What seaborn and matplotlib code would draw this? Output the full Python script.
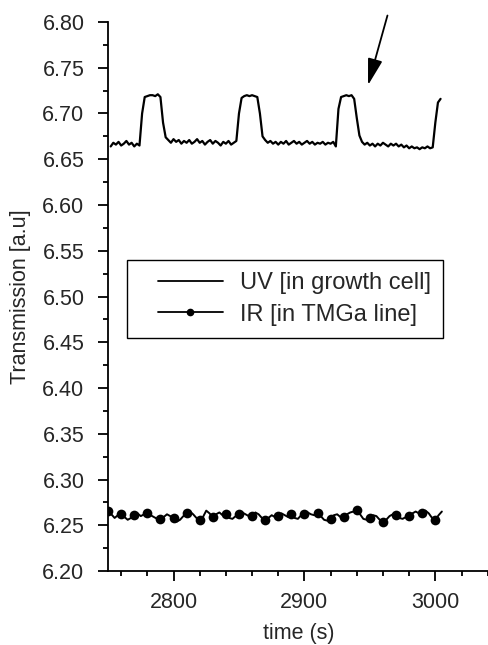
import numpy as np
import seaborn as sns
import matplotlib.pyplot as plt
from matplotlib.lines import Line2D
from matplotlib.legend_handler import HandlerLine2D

# UV signal (growth cell), sampled every 2 s
uv_time = np.arange(2752, 3005, 2)
uv_values = [
    6.664, 6.668, 6.666, 6.669, 6.665, 6.667, 6.670, 6.666, 6.668, 6.664,
    6.667, 6.665, 6.700, 6.718, 6.719, 6.720, 6.720, 6.719, 6.721, 6.718,
    6.690, 6.674, 6.671, 6.668, 6.672, 6.669, 6.671, 6.667, 6.670, 6.668,
    6.671, 6.667, 6.669, 6.672, 6.668, 6.670, 6.666, 6.669, 6.671, 6.667,
    6.670, 6.668, 6.665, 6.669, 6.667, 6.670, 6.666, 6.668, 6.670, 6.700,
    6.717, 6.719, 6.720, 6.719, 6.720, 6.719, 6.718, 6.700, 6.675, 6.671,
    6.668, 6.670, 6.667, 6.669, 6.666, 6.669, 6.667, 6.670, 6.666, 6.668,
    6.670, 6.667, 6.669, 6.666, 6.668, 6.670, 6.667, 6.669, 6.666, 6.668,
    6.667, 6.669, 6.666, 6.668, 6.667, 6.669, 6.664, 6.705, 6.718, 6.719,
    6.720, 6.719, 6.720, 6.716, 6.695, 6.676, 6.669, 6.666, 6.668, 6.665,
    6.667, 6.664, 6.667, 6.665, 6.668, 6.666, 6.664, 6.667, 6.665, 6.667,
    6.664, 6.666, 6.663, 6.665, 6.662, 6.664, 6.662, 6.663, 6.661, 6.663,
    6.662, 6.664, 6.662, 6.663, 6.690, 6.712, 6.716,
]

# IR signal (TMGa line), sampled every 2.5 s, marker every 10 s
ir_time = np.arange(2750, 3005.1, 2.5)
ir_values = [
    6.2655, 6.262, 6.258, 6.261,
    6.2626, 6.259, 6.256, 6.258,
    6.2608, 6.263, 6.260, 6.262,
    6.2630, 6.261, 6.259, 6.257,
    6.2564, 6.259, 6.262, 6.260,
    6.2575, 6.254, 6.256, 6.260,
    6.2630, 6.265, 6.262, 6.258,
    6.2553, 6.259, 6.266, 6.263,
    6.2589, 6.262, 6.264, 6.261,
    6.2619, 6.258, 6.257, 6.260,
    6.2619, 6.264, 6.262, 6.260,
    6.2600, 6.264, 6.262, 6.258,
    6.2553, 6.258, 6.261, 6.259,
    6.2600, 6.263, 6.261, 6.259,
    6.2619, 6.258, 6.257, 6.261,
    6.2619, 6.264, 6.262, 6.261,
    6.2630, 6.260, 6.256, 6.255,
    6.2571, 6.261, 6.262, 6.259,
    6.2589, 6.262, 6.264, 6.265,
    6.2663, 6.262, 6.257, 6.256,
    6.2581, 6.261, 6.260, 6.256,
    6.2538, 6.256, 6.260, 6.262,
    6.2612, 6.258, 6.257, 6.259,
    6.2600, 6.263, 6.265, 6.263,
    6.2637, 6.266, 6.263, 6.258,
    6.2557, 6.261, 6.265,
]

labels = ['UV [in growth cell]', 'IR [in TMGa line]']

sns.set_style('ticks')
plt.rcParams['font.family'] = ['Liberation Sans', 'DejaVu Sans']
fs = 15.5

fig = plt.figure(figsize=(4.89, 6.45), dpi=100)
ax = fig.add_axes([0.221, 0.1147, 0.779, 0.8512])

sns.lineplot(x=uv_time, y=uv_values, ax=ax, color='black', linewidth=1.6,
             estimator=None, sort=False)
sns.lineplot(x=ir_time, y=ir_values, ax=ax, color='black', linewidth=1.4,
             marker='o', markersize=7, markevery=4, markeredgewidth=0,
             estimator=None, sort=False)

ax.set_xlim(2750, 3041)
ax.set_ylim(6.20, 6.80)
ax.set_xticks([2800, 2900, 3000])
ax.set_xticks(np.arange(2760, 3041, 20), minor=True)
ax.set_yticks(np.arange(6.20, 6.801, 0.05))
ax.set_yticks(np.arange(6.225, 6.80, 0.05), minor=True)
ax.yaxis.set_major_formatter(plt.FormatStrFormatter('%.2f'))
ax.tick_params(which='major', length=7, width=1.3, labelsize=fs, color='black')
ax.tick_params(which='minor', length=3.5, width=1.3, color='black')
ax.tick_params(axis='y', which='major', pad=10)
ax.tick_params(axis='x', which='major', pad=8)
for s in ['left', 'bottom']:
    ax.spines[s].set_linewidth(1.3)
    ax.spines[s].set_color('black')
sns.despine(ax=ax)

ax.set_xlabel('time (s)', fontsize=fs, labelpad=7)
ax.set_ylabel('Transmission [a.u]', fontsize=fs, labelpad=8)

# legend
handles = [
    Line2D([], [], color='black', linewidth=1.3),
    Line2D([], [], color='black', linewidth=1.3, marker='o', markersize=4.5),
]
hmap = {h: HandlerLine2D(xpad=0.8) for h in handles}
leg = ax.legend(handles, labels, handler_map=hmap,
                loc='upper left', bbox_to_anchor=(0.05, 0.5665),
                borderaxespad=0, fancybox=False, framealpha=1,
                edgecolor='black', handlelength=3.56, handletextpad=0.72,
                borderpad=0.5, labelspacing=0.42, fontsize=17)
leg.get_frame().set_linewidth(1.0)

ax.annotate('', xy=(2948, 6.728), xytext=(2964, 6.81), annotation_clip=False,
            arrowprops=dict(arrowstyle='-|>,head_length=0.9,head_width=0.25',
                            color='black', lw=1.3, mutation_scale=18))

fig.savefig('out.png', dpi=100)
